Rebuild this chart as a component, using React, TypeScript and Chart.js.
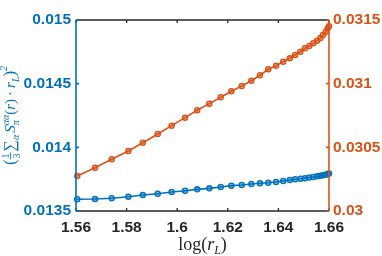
import React, { useEffect, useRef } from "react";
import { Chart, registerables } from "chart.js";
Chart.register(...registerables);

// log(r_L) positions of the samples
const xLog = [
  1.5605, 1.5675, 1.5741, 1.5807, 1.5864, 1.5923, 1.5978, 1.6031, 1.6079, 1.6127,
  1.6172, 1.6214, 1.6255, 1.6293, 1.6327, 1.636, 1.6391, 1.6419, 1.6445, 1.6466,
  1.6487, 1.6505, 1.6522, 1.6538, 1.6553, 1.6566, 1.6576, 1.6587, 1.6595, 1.66,
];
// left axis series (blue)
const blueVals = [
  0.013592, 0.013594, 0.0136, 0.013612, 0.013626, 0.013636, 0.013649, 0.013659, 0.01367, 0.013678,
  0.013688, 0.013699, 0.013704, 0.013712, 0.013718, 0.013722, 0.013728, 0.013736, 0.013743, 0.013749,
  0.013753, 0.013758, 0.013763, 0.013767, 0.013772, 0.013776, 0.01378, 0.013785, 0.01379, 0.013795,
];
// right axis series (red)
const redVals = [
  0.030275, 0.03034, 0.030406, 0.030471, 0.030536, 0.030605, 0.03067, 0.030733, 0.030791, 0.030843,
  0.030893, 0.03094, 0.030982, 0.031023, 0.031066, 0.031113, 0.031141, 0.031173, 0.031199, 0.031225,
  0.031251, 0.031278, 0.031296, 0.031317, 0.031337, 0.031359, 0.031382, 0.031408, 0.031435, 0.03145,
];
const xTicks = [1.56, 1.58, 1.6, 1.62, 1.64, 1.66];
const leftTicks = [0.0135, 0.014, 0.0145, 0.015];
const rightTicks = [0.03, 0.0305, 0.031, 0.0315];

const BLUE = "#0072BD";
const RED = "#D95319";
const DARK = "#262626";
const SERIF = '"Liberation Serif", "DejaVu Serif", serif';
const SANS = '"Liberation Sans", Arial, sans-serif';

type Seg =
  | { k: "t"; t: string; size: number; italic?: boolean; dy?: number }
  | { k: "s"; sup?: string; sub?: string; size: number; supDy: number; subDy: number }
  | { k: "f"; num: string; den: string; size: number }
  | { k: "g"; w: number };

const fnt = (size: number, italic?: boolean) => `${italic ? "italic " : ""}${size}px ${SERIF}`;

function segW(ctx: CanvasRenderingContext2D, s: Seg): number {
  if (s.k === "g") return s.w;
  if (s.k === "t") {
    ctx.font = fnt(s.size, s.italic);
    return ctx.measureText(s.t).width;
  }
  if (s.k === "s") {
    ctx.font = fnt(s.size, true);
    return Math.max(s.sup ? ctx.measureText(s.sup).width : 0, s.sub ? ctx.measureText(s.sub).width : 0);
  }
  ctx.font = fnt(s.size, false);
  return Math.max(ctx.measureText(s.num).width, ctx.measureText(s.den).width) + 2;
}

function drawSegs(ctx: CanvasRenderingContext2D, segs: Seg[], cx: number, baseY: number) {
  const total = segs.reduce((a, s) => a + segW(ctx, s), 0);
  let x = cx - total / 2;
  ctx.textBaseline = "alphabetic";
  ctx.textAlign = "left";
  for (const s of segs) {
    const w = segW(ctx, s);
    if (s.k === "t") {
      ctx.font = fnt(s.size, s.italic);
      ctx.fillText(s.t, x, baseY + (s.dy || 0));
    } else if (s.k === "s") {
      ctx.font = fnt(s.size, true);
      if (s.sup) ctx.fillText(s.sup, x, baseY + s.supDy);
      if (s.sub) ctx.fillText(s.sub, x, baseY + s.subDy);
    } else if (s.k === "f") {
      ctx.font = fnt(s.size, false);
      const nw = ctx.measureText(s.num).width;
      const dw = ctx.measureText(s.den).width;
      ctx.fillText(s.num, x + (w - nw) / 2, baseY - 6.5);
      ctx.fillText(s.den, x + (w - dw) / 2, baseY + 4.5);
      ctx.fillRect(x, baseY - 5, w, 0.8);
    }
    x += w;
  }
}

const yTitle: Seg[] = [
  { k: "t", t: "(", size: 17 },
  { k: "f", num: "1", den: "3", size: 10 },
  { k: "g", w: 1 },
  { k: "t", t: "∑", size: 16 },
  { k: "s", sub: "α", size: 10, supDy: -7, subDy: 4 },
  { k: "g", w: 2 },
  { k: "t", t: "S", size: 15, italic: true },
  { k: "s", sup: "αα", sub: "π", size: 10, supDy: -6.5, subDy: 4 },
  { k: "t", t: "(", size: 15 },
  { k: "t", t: "r", size: 15, italic: true },
  { k: "t", t: ")", size: 15 },
  { k: "g", w: 3 },
  { k: "t", t: "·", size: 15 },
  { k: "g", w: 3 },
  { k: "t", t: "r", size: 15, italic: true },
  { k: "s", sub: "L", size: 10, supDy: -7, subDy: 4 },
  { k: "t", t: ")", size: 17 },
  { k: "s", sup: "2", size: 10, supDy: -8.5, subDy: 4 },
];

const xTitle: Seg[] = [
  { k: "t", t: "log(", size: 18 },
  { k: "t", t: "r", size: 18, italic: true },
  { k: "s", sub: "L", size: 12, supDy: -8, subDy: 4 },
  { k: "t", t: ")", size: 18 },
];

const fmt = (v: number | string) => String(parseFloat(Number(v).toFixed(4)));

const axesPlugin = {
  id: "matlabAxes",
  afterDraw(chart: any) {
    const { ctx, chartArea: a, scales } = chart;
    const L = a.left, R = a.right, T = a.top, B = a.bottom;
    ctx.save();
    ctx.lineWidth = 1.3;
    // top and bottom borders
    ctx.strokeStyle = DARK;
    ctx.beginPath();
    ctx.moveTo(L, T); ctx.lineTo(R, T);
    ctx.moveTo(L, B); ctx.lineTo(R, B);
    for (const v of xTicks) {
      const px = scales.x.getPixelForValue(v);
      ctx.moveTo(px, B); ctx.lineTo(px, B - 3);
      ctx.moveTo(px, T); ctx.lineTo(px, T + 3);
    }
    ctx.stroke();
    // left axis
    ctx.lineWidth = 1.6;
    ctx.strokeStyle = BLUE;
    ctx.beginPath();
    ctx.moveTo(L, T); ctx.lineTo(L, B);
    for (const v of leftTicks) {
      const py = scales.y.getPixelForValue(v);
      ctx.moveTo(L, py); ctx.lineTo(L + 3, py);
    }
    ctx.stroke();
    // right axis
    ctx.strokeStyle = RED;
    ctx.beginPath();
    ctx.moveTo(R, T); ctx.lineTo(R, B);
    for (const v of rightTicks) {
      const py = scales.y1.getPixelForValue(v);
      ctx.moveTo(R, py); ctx.lineTo(R - 3, py);
    }
    ctx.stroke();
    // y title (rotated), centred on the axis
    ctx.fillStyle = BLUE;
    ctx.translate(15, (T + B) / 2);
    ctx.rotate(-Math.PI / 2);
    drawSegs(ctx, yTitle, 0, 0);
    ctx.restore();
    // x title
    ctx.save();
    ctx.fillStyle = DARK;
    drawSegs(ctx, xTitle, (L + R) / 2, 250);
    ctx.restore();
  },
};

export default function App() {
  const ref = useRef<HTMLCanvasElement | null>(null);
  useEffect(() => {
    document.body.style.margin = "0";
    if (!ref.current) return;
    const chart = new Chart(ref.current, {
      type: "line",
      data: {
        datasets: [
          {
            data: xLog.map((x, i) => ({ x, y: blueVals[i] })),
            yAxisID: "y",
            borderColor: BLUE,
            backgroundColor: BLUE,
            borderWidth: 1.6,
            pointRadius: 2.6,
            pointBorderWidth: 1.3,
            pointBackgroundColor: "rgba(0,114,189,0.55)",
            pointBorderColor: BLUE,
            clip: false as any,
          },
          {
            data: xLog.map((x, i) => ({ x, y: redVals[i] })),
            yAxisID: "y1",
            borderColor: RED,
            backgroundColor: RED,
            borderWidth: 1.6,
            pointRadius: 2.6,
            pointBorderWidth: 1.3,
            pointBackgroundColor: "rgba(217,83,25,0.55)",
            pointBorderColor: RED,
            clip: false as any,
          },
        ],
      },
      options: {
        animation: false,
        responsive: true,
        maintainAspectRatio: false,
        layout: { padding: { top: 20, left: 0, right: 0, bottom: 0 } },
        plugins: { legend: { display: false }, tooltip: { enabled: false } },
        scales: {
          x: {
            type: "linear",
            min: 1.56,
            max: 1.66,
            grid: { display: false, drawTicks: false },
            border: { display: false },
            afterBuildTicks: (s: any) => { s.ticks = xTicks.map((v) => ({ value: v })); },
            afterFit: (s: any) => { s.height = 45; },
            ticks: {
              padding: 7,
              color: DARK,
              font: { family: SANS, size: 15.5, weight: "bold" },
              callback: (v: any) => fmt(v),
              maxRotation: 0,
              autoSkip: false,
            },
          },
          y: {
            type: "linear",
            position: "left",
            min: 0.0135,
            max: 0.015,
            grid: { display: false, drawTicks: false },
            border: { display: false },
            afterBuildTicks: (s: any) => { s.ticks = leftTicks.map((v) => ({ value: v })); },
            afterFit: (s: any) => { s.width = 76; },
            ticks: {
              padding: 5,
              color: BLUE,
              font: { family: SANS, size: 15.5, weight: "bold" },
              callback: (v: any) => fmt(v),
            },
          },
          y1: {
            type: "linear",
            position: "right",
            min: 0.03,
            max: 0.0315,
            grid: { display: false, drawTicks: false },
            border: { display: false },
            afterBuildTicks: (s: any) => { s.ticks = rightTicks.map((v) => ({ value: v })); },
            afterFit: (s: any) => { s.width = 53; },
            ticks: {
              padding: 4,
              color: RED,
              font: { family: SANS, size: 15.5, weight: "bold" },
              callback: (v: any) => fmt(v),
            },
          },
        },
      } as any,
      plugins: [axesPlugin],
    });
    return () => chart.destroy();
  }, []);
  return (
    <div style={{ position: "fixed", left: 0, top: 0, width: 382, height: 256, background: "#fff" }}>
      <canvas ref={ref} />
    </div>
  );
}
